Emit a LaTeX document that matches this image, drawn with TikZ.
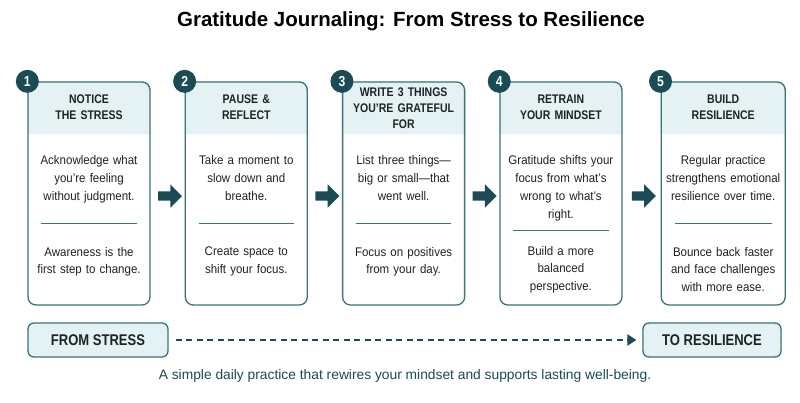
\documentclass[tikz,border=0pt]{standalone}
\usepackage{fontspec}
\setmainfont{Liberation Sans}[FakeStretch=0.92]
\newfontfamily\titlefont{Liberation Sans}
\newfontfamily\condfont{Liberation Sans}[FakeStretch=0.84]
\usepackage{xcolor}
\usetikzlibrary{arrows.meta, positioning, calc, shapes.arrows, backgrounds}

\definecolor{tealline}{HTML}{3A7479}
\definecolor{tealdark}{HTML}{1B4B55}
\definecolor{headfill}{HTML}{E4F2F3}
\definecolor{inktext}{HTML}{1E2325}

\begin{document}
\begin{tikzpicture}[x=1pt, y=-1pt, node distance=34pt]
% Define styles
\tikzstyle{card} = [rectangle, rounded corners=8pt, minimum width=122pt, minimum height=223pt, draw=tealline, line width=1.3pt]
\tikzstyle{badge} = [circle, fill=tealdark, text=white, minimum size=23pt, inner sep=0pt, font=\condfont\bfseries\fontsize{14.5}{14.5}\selectfont]
\tikzstyle{headtext} = [text width=118pt, align=center, inner sep=0pt, text=inktext, font=\condfont\bfseries\fontsize{12.5}{16}\selectfont]
\tikzstyle{bodytext} = [text width=120pt, align=center, inner sep=0pt, text=inktext, font=\fontsize{12.5}{17.8}\selectfont]
\tikzstyle{divider} = [draw=tealline, line width=1pt]
\tikzstyle{steparrow} = [single arrow, fill=tealdark, minimum height=24pt, single arrow head extend=7pt, inner xsep=0pt, inner ysep=4.5pt]
\tikzstyle{endbox} = [rectangle, rounded corners=6pt, minimum height=34pt, draw=tealline, line width=1.3pt, fill=headfill, text=inktext, font=\condfont\bfseries\fontsize{15.5}{15.5}\selectfont]
\tikzstyle{flow} = [tealdark, line width=2.4pt, dash pattern=on 6pt off 4.5pt, -{Triangle[length=9pt, width=11pt]}]

\useasboundingbox (0,0) rectangle (800,402);

% Title
\node (title) at (411,21.5) {\titlefont\bfseries\fontsize{20.5}{20.5}\selectfont Gratitude Journaling: From Stress to Resilience};

% Cards
\node (card1) [card] at (89,193.5) {};
\node (card2) [card, right=of card1] {};
\node (card3) [card, right=of card2] {};
\node (card4) [card, right=of card3] {};
\node (card5) [card, minimum width=124pt, right=38pt of card4] {};

% Header bands
\begin{pgfonlayer}{background}
\fill[white] (0,0) rectangle (800,402);
\foreach \c in {card1,card2,card3,card4,card5}
  \fill[headfill] ([yshift=-53pt]\c.north west) [rounded corners=8pt] -- (\c.north west) -- (\c.north east) [sharp corners] -- ([yshift=-53pt]\c.north east) -- cycle;
\end{pgfonlayer}

% Headers
\node (head1) [headtext] at ([yshift=-26pt]card1.north) {NOTICE\\THE STRESS};
\node (head2) [headtext] at ([yshift=-26pt]card2.north) {PAUSE \&\\REFLECT};
\node (head3) [headtext] at ([yshift=-27pt]card3.north) {WRITE 3 THINGS\\YOU’RE GRATEFUL\\FOR};
\node (head4) [headtext] at ([yshift=-26pt]card4.north) {RETRAIN\\YOUR MINDSET};
\node (head5) [headtext] at ([yshift=-26pt]card5.north) {BUILD\\RESILIENCE};

% Texts
\node (text1a) [bodytext, below=74pt of card1.north] {Acknowledge what\\you’re feeling\\without judgment.};
\node (text1b) [bodytext, below=165.5pt of card1.north] {Awareness is the\\first step to change.};
\node (text2a) [bodytext, below=74pt of card2.north] {Take a moment to\\slow down and\\breathe.};
\node (text2b) [bodytext, below=165.5pt of card2.north] {Create space to\\shift your focus.};
\node (text3a) [bodytext, below=74pt of card3.north] {List three things—\\big or small—that\\went well.};
\node (text3b) [bodytext, below=165.5pt of card3.north] {Focus on positives\\from your day.};
\node (text4a) [bodytext, below=74pt of card4.north] {Gratitude shifts your\\focus from what’s\\wrong to what’s\\right.};
\node (text4b) [bodytext, below=164.5pt of card4.north] {Build a more\\balanced\\perspective.};
\node (text5a) [bodytext, below=74pt of card5.north] {Regular practice\\strengthens emotional\\resilience over time.};
\node (text5b) [bodytext, below=165.5pt of card5.north] {Bounce back faster\\and face challenges\\with more ease.};

% Dividers
\foreach \c/\d in {card1/142,card2/142,card3/142,card4/149,card5/142}
  \draw[divider] ([xshift=14pt,yshift=-\d pt]\c.north west) -- ([xshift=-14pt,yshift=-\d pt]\c.north east);

% Badges
\node (badge1) [badge] at (card1.north west) {1};
\node (badge2) [badge] at (card2.north west) {2};
\node (badge3) [badge] at (card3.north west) {3};
\node (badge4) [badge] at (card4.north west) {4};
\node (badge5) [badge] at (card5.north west) {5};

% Step arrows
\node (arrow12) [steparrow] at ([yshift=-2.5pt]$(card1.east)!0.5!(card2.west)$) {};
\node (arrow23) [steparrow] at ([yshift=-2.5pt]$(card2.east)!0.5!(card3.west)$) {};
\node (arrow34) [steparrow] at ([yshift=-2.5pt]$(card3.east)!0.5!(card4.west)$) {};
\node (arrow45) [steparrow] at ([yshift=-2.5pt]$(card4.east)!0.5!(card5.west)$) {};

% From / to
\node (fromstress) [endbox, minimum width=140pt] at (98,340) {FROM STRESS};
\node (toresil) [endbox, minimum width=138pt] at (712,340) {TO RESILIENCE};
\draw [flow, shorten <=7pt, shorten >=6pt] (fromstress) -- (toresil);

\node (caption) [text=tealdark, font=\titlefont\fontsize{13.8}{13.8}\selectfont] at (405,376) {A simple daily practice that rewires your mindset and supports lasting well-being.};

\end{tikzpicture}
\end{document}
